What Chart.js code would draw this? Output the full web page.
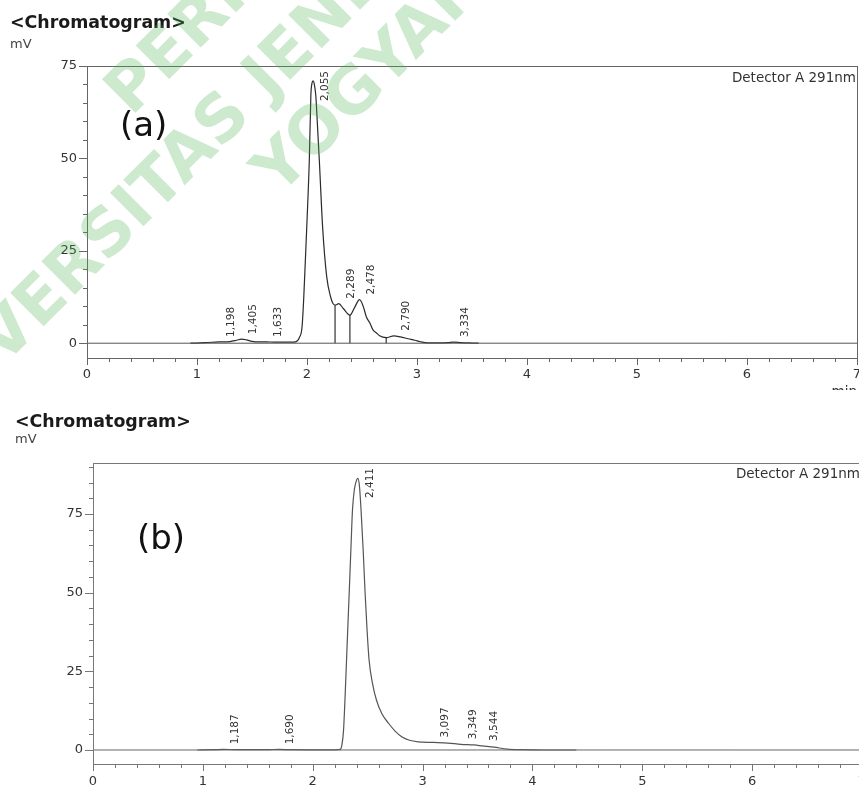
<!DOCTYPE html>
<html>
<head>
<meta charset="utf-8">
<script src="https://cdn.jsdelivr.net/npm/chart.js@4.4.0/dist/chart.umd.min.js"></script>
<style>
  html, body { margin: 0; padding: 0; background: #fff; overflow: hidden; width: 859px; height: 789px; }
  canvas { position: absolute; left: 0; }
  #cA { top: 0; }
  #cB { top: 395px; }
</style>
</head>
<body>
<canvas id="cA" width="880" height="390"></canvas>
<canvas id="cB" width="880" height="394"></canvas>
<script>
/* Cromatogramas (a) y (b) - Detector A 291nm */
const X_TICKS = [0, 1, 2, 3, 4, 5, 6, 7];
const Y_TICKS_A = [0, 25, 50, 75];
const Y_TICKS_B = [0, 25, 50, 75];

// (a) señal en mV vs tiempo (min)
const TIME_A = [0.94, 1.00, 1.10, 1.198, 1.30, 1.36, 1.405, 1.45, 1.50, 1.56, 1.633, 1.70, 1.80, 1.88, 1.91, 1.93,
  1.955, 1.97, 1.985, 2.00, 2.021, 2.035, 2.045, 2.055, 2.065, 2.08, 2.095, 2.112, 2.142, 2.179, 2.215, 2.235,
  2.255, 2.289, 2.33, 2.39, 2.43, 2.478, 2.512, 2.54, 2.573, 2.60, 2.634, 2.66, 2.72, 2.79, 2.85, 2.92, 2.98,
  3.03, 3.10, 3.20, 3.28, 3.334, 3.40, 3.50, 3.56];
const MV_A = [0, 0.05, 0.2, 0.35, 0.45, 0.8, 1.1, 0.9, 0.5, 0.35, 0.35, 0.3, 0.3, 0.3, 0.6, 1.5,
  4.4, 12, 22.4, 33, 49.5, 67, 70.3, 71, 70.3, 67, 59, 49.5, 31.4, 18, 12.5, 10.8,
  10.3, 10.7, 9.4, 7.6, 9.5, 11.8, 9.9, 7.1, 5.4, 3.6, 2.7, 2.0, 1.5, 2.0, 1.7, 1.2, 0.8,
  0.4, 0.1, 0.1, 0.15, 0.3, 0.15, 0.05, 0];
const PEAK_T_A = [1.198, 1.405, 1.633, 2.055, 2.289, 2.478, 2.790, 3.334];
const PEAK_MV_A = [0.35, 1.1, 0.35, 71, 10.7, 11.8, 2.0, 0.3];
const DROP_T_A = [2.255, 2.39, 2.72];
const DROP_MV_A = [10.3, 7.6, 1.5];

// (b)
const TIME_B = [0.95, 1.10, 1.187, 1.30, 1.50, 1.60, 1.690, 1.80, 2.00, 2.20, 2.25, 2.265, 2.28, 2.296, 2.315,
  2.332, 2.35, 2.362, 2.38, 2.40, 2.411, 2.425, 2.44, 2.46, 2.477, 2.495, 2.513, 2.545, 2.58, 2.63, 2.69, 2.75,
  2.81, 2.88, 2.96, 3.097, 3.23, 3.349, 3.47, 3.544, 3.65, 3.77, 3.90, 4.10, 4.40];
const MV_B = [0, 0.1, 0.2, 0.1, 0.1, 0.1, 0.2, 0.1, 0.05, 0.05, 0.2, 1.5, 6, 18, 35,
  49.8, 66, 76.3, 83, 85.8, 86.3, 84, 76.3, 63, 49.8, 38, 28.6, 21, 15.9, 11.5, 8.5, 6,
  4.2, 3.1, 2.6, 2.4, 2.2, 1.8, 1.6, 1.3, 0.9, 0.3, 0.1, 0, 0];
const PEAK_T_B = [1.187, 1.690, 2.411, 3.097, 3.349, 3.544];
const PEAK_MV_B = [0.2, 0.2, 86.3, 2.4, 1.8, 1.3];

const BASE_T = [0, 7];
const BASE_MV = [0, 0];

const FONT = '"DejaVu Sans", sans-serif';

function pts(xs, ys) { return xs.map((x, i) => ({ x, y: ys[i] })); }

function dropPts(xs, ys) {
  const out = [];
  xs.forEach((x, i) => { out.push({ x, y: 0 }, { x, y: ys[i] }, { x, y: null }); });
  return out;
}

// marco + marcas de ejes (mayores y menores)
const framePlugin = {
  id: 'frame',
  afterDraw(chart, args, o) {
    const { ctx, chartArea: a, scales: { x, y } } = chart;
    ctx.save();
    ctx.strokeStyle = o.color;
    ctx.lineWidth = 1;
    ctx.strokeRect(a.left + 0.5, a.top + 0.5, a.right - a.left, a.bottom - a.top);
    ctx.beginPath();
    for (let k = 0; k <= 35; k++) {
      const px = Math.round(x.getPixelForValue(k / 5)) + 0.5;
      const len = k % 5 === 0 ? 7 : 4;
      ctx.moveTo(px, a.bottom); ctx.lineTo(px, a.bottom + len);
    }
    for (let v = 0; v <= y.max; v += 5) {
      const py = Math.round(y.getPixelForValue(v)) + 0.5;
      const len = v % 25 === 0 ? 8 : 4;
      ctx.moveTo(a.left, py); ctx.lineTo(a.left - len, py);
    }
    ctx.stroke();
    ctx.restore();
  },
};

// textos: título, unidades, letra del panel, detector, etiquetas de picos
const textPlugin = {
  id: 'texts',
  afterDatasetsDraw(chart, args, o) {
    const { ctx, chartArea: a, scales: { x, y } } = chart;
    ctx.save();
    ctx.fillStyle = '#1a1a1a';
    ctx.textBaseline = 'alphabetic';
    ctx.textAlign = 'left';
    ctx.font = 'bold 17.4px ' + FONT;
    ctx.fillText('<Chromatogram>', o.titleX, o.titleY);
    ctx.fillStyle = '#444';
    ctx.font = '13px ' + FONT;
    ctx.fillText('mV', o.titleX, o.unitY);
    ctx.fillStyle = '#111';
    ctx.font = '34px ' + FONT;
    ctx.fillText(o.panel, o.panelX, o.panelY);
    ctx.fillStyle = '#333';
    ctx.font = '13.5px ' + FONT;
    ctx.textAlign = 'right';
    ctx.fillText('Detector A 291nm', o.detX, o.detY);
    if (o.minY) ctx.fillText('min', a.right, o.minY);

    ctx.font = '10.5px ' + FONT;
    ctx.textAlign = 'left';
    ctx.textBaseline = 'middle';
    o.peaksT.forEach((t, i) => {
      const txt = t.toFixed(3).replace('.', ',');
      const w = ctx.measureText(txt).width;
      let start = y.getPixelForValue(o.peaksMv[i]) - 5;
      if (start - w < a.top + 5) start = a.top + 5 + w;
      ctx.save();
      ctx.translate(x.getPixelForValue(t) + 12, start);
      ctx.rotate(-Math.PI / 2);
      ctx.fillText(txt, 0, 0);
      ctx.restore();
    });
    ctx.restore();
  },
};

// marca de agua de la biblioteca
const watermarkPlugin = {
  id: 'watermark',
  afterDraw(chart, args, o) {
    if (!o.on) return;
    const { ctx } = chart;
    ctx.save();
    ctx.fillStyle = 'rgba(76,175,80,0.28)';
    ctx.font = 'bold 65px ' + FONT;
    ctx.textAlign = 'center';
    ctx.textBaseline = 'middle';
    ctx.translate(396, -50);
    ctx.rotate(-45 * Math.PI / 180);
    ctx.fillText('PERPUSTAKAAN', -13, -86);
    ctx.fillText('UNIVERSITAS JENDERAL ACHMAD YANI', 0, 0);
    ctx.fillText('YOGYAKARTA', -17, 75);
    ctx.restore();
  },
};

function makeChart(id, p) {
  const datasets = [
    { data: pts(BASE_T, BASE_MV), borderColor: p.baseColor, borderWidth: 1 },
    { data: pts(p.t, p.mv), borderColor: p.lineColor, borderWidth: 1.2, cubicInterpolationMode: 'monotone' },
  ];
  if (p.dropT) datasets.push({ data: dropPts(p.dropT, p.dropMv), borderColor: '#333', borderWidth: 1.2, spanGaps: false });
  datasets.forEach(d => { d.showLine = true; d.pointRadius = 0; d.fill = false; });

  const tickFont = { family: FONT, size: 13 };
  return new Chart(document.getElementById(id), {
    type: 'scatter',
    data: { datasets },
    options: {
      responsive: false, animation: false,
      layout: { padding: { left: 0, top: p.top, right: 880 - p.right, bottom: 0 } },
      plugins: {
        legend: { display: false }, tooltip: { enabled: false },
        frame: { color: p.frameColor },
        texts: p.texts,
        watermark: { on: !!p.watermark },
      },
      scales: {
        x: {
          type: 'linear', min: 0, max: 7,
          afterBuildTicks: s => { s.ticks = X_TICKS.map(v => ({ value: v })); },
          afterFit: s => { s.height = p.xH; },
          grid: { display: false, drawTicks: false }, border: { display: false },
          ticks: { font: tickFont, color: '#333', padding: p.xPad, maxRotation: 0, autoSkip: false },
        },
        y: {
          type: 'linear', min: p.yMin, max: p.yMax,
          afterBuildTicks: s => { s.ticks = p.yTicks.map(v => ({ value: v })); },
          afterFit: s => { s.width = p.left; },
          grid: { display: false, drawTicks: false }, border: { display: false },
          ticks: { font: tickFont, color: '#333', padding: 10 },
        },
      },
    },
    plugins: [framePlugin, textPlugin, watermarkPlugin],
  });
}

makeChart('cA', {
  t: TIME_A, mv: MV_A, dropT: DROP_T_A, dropMv: DROP_MV_A,
  yMin: -4, yMax: 75, yTicks: Y_TICKS_A,
  left: 87, right: 857, top: 66, xH: 32, xPad: 9,
  lineColor: '#2b2b2b', baseColor: '#555', frameColor: '#666',
  watermark: true,
  texts: {
    titleX: 10, titleY: 27.5, unitY: 48, panel: '(a)', panelX: 120, panelY: 135.5,
    detX: 856, detY: 81.5, minY: 396, peaksT: PEAK_T_A, peaksMv: PEAK_MV_A,
  },
});

makeChart('cB', {
  t: TIME_B, mv: MV_B,
  yMin: -4.45, yMax: 91.2, yTicks: Y_TICKS_B,
  left: 93, right: 862, top: 68, xH: 25, xPad: 10,
  lineColor: '#555', baseColor: '#666', frameColor: '#777',
  texts: {
    titleX: 15, titleY: 31.5, unitY: 48, panel: '(b)', panelX: 137, panelY: 153.6,
    detX: 860, detY: 83, minY: 0, peaksT: PEAK_T_B, peaksMv: PEAK_MV_B,
  },
});
</script>
</body>
</html>
